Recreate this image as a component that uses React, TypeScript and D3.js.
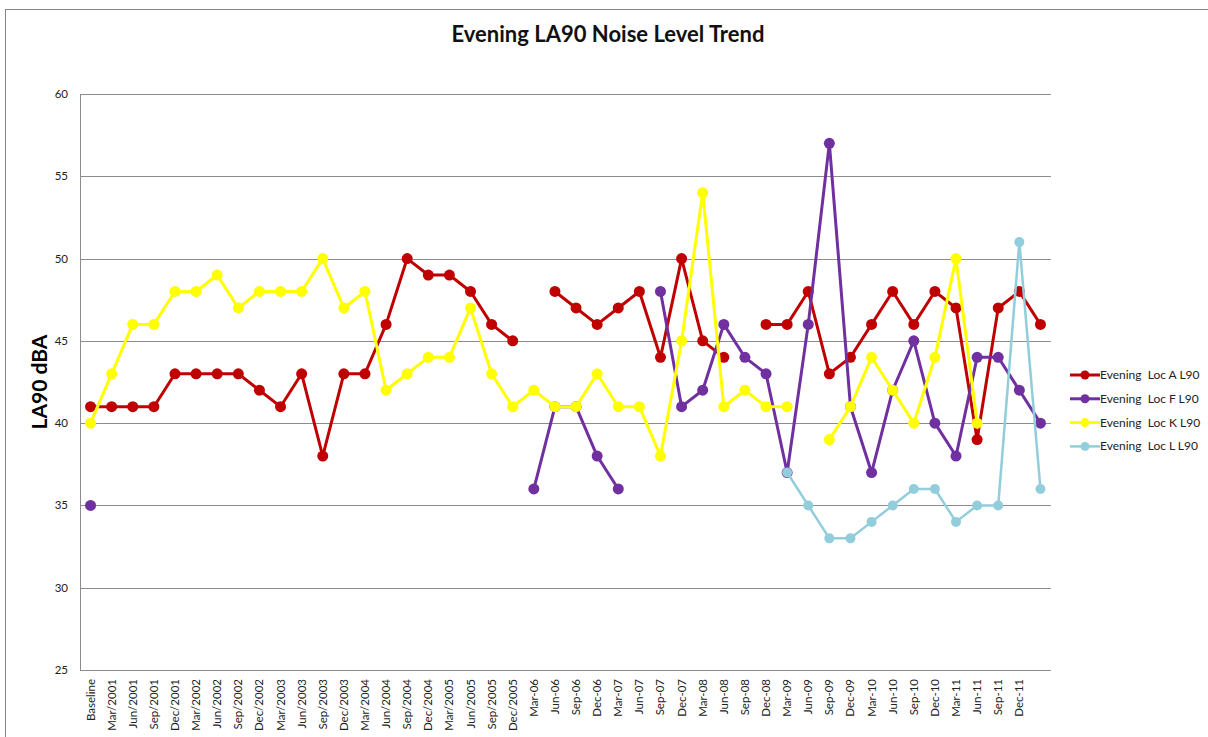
import React from "react";
import * as d3 from "d3";

const categories = [
  "Baseline",
  "Mar/2001", "Jun/2001", "Sep/2001", "Dec/2001",
  "Mar/2002", "Jun/2002", "Sep/2002", "Dec/2002",
  "Mar/2003", "Jun/2003", "Sep/2003", "Dec/2003",
  "Mar/2004", "Jun/2004", "Sep/2004", "Dec/2004",
  "Mar/2005", "Jun/2005", "Sep/2005", "Dec/2005",
  "Mar-06", "Jun-06", "Sep-06", "Dec-06",
  "Mar-07", "Jun-07", "Sep-07", "Dec-07",
  "Mar-08", "Jun-08", "Sep-08", "Dec-08",
  "Mar-09", "Jun-09", "Sep-09", "Dec-09",
  "Mar-10", "Jun-10", "Sep-10", "Dec-10",
  "Mar-11", "Jun-11", "Sep-11", "Dec-11",
  "",
];

type V = number | null;

const locA: V[] = [
  41, 41, 41, 41, 43, 43, 43, 43, 42, 41, 43, 38, 43, 43, 46, 50, 49, 49, 48, 46, 45,
  null, 48, 47, 46, 47, 48, 44, 50, 45, 44, null, 46, 46, 48, 43, 44, 46, 48, 46, 48,
  47, 39, 47, 48, 46,
];

const locF: V[] = [
  35, null, null, null, null, null, null, null, null, null, null, null, null, null, null,
  null, null, null, null, null, null,
  36, 41, 41, 38, 36, null, 48, 41, 42, 46, 44, 43, 37, 46, 57, 41, 37, 42, 45, 40, 38,
  44, 44, 42, 40,
];

const locK: V[] = [
  40, 43, 46, 46, 48, 48, 49, 47, 48, 48, 48, 50, 47, 48, 42, 43, 44, 44, 47, 43, 41,
  42, 41, 41, 43, 41, 41, 38, 45, 54, 41, 42, 41, 41, null, 39, 41, 44, 42, 40, 44, 50,
  40, null, null, null,
];

const locL: V[] = [
  null, null, null, null, null, null, null, null, null, null, null, null, null, null,
  null, null, null, null, null, null, null, null, null, null, null, null, null, null,
  null, null, null, null, null,
  37, 35, 33, 33, 34, 35, 36, 36, 34, 35, 35, 51, 36,
];

const yTicks = [25, 30, 35, 40, 45, 50, 55, 60];

const series = [
  { name: "Evening  Loc A L90", values: locA, color: "#C00000", width: 3, r: 5.5 },
  { name: "Evening  Loc F L90", values: locF, color: "#7030A0", width: 3, r: 5.5 },
  { name: "Evening  Loc K L90", values: locK, color: "#FFFF00", width: 3, r: 5.5 },
  { name: "Evening  Loc L L90", values: locL, color: "#92CDDC", width: 2.5, r: 5 },
];

const W = 1208;
const H = 737;
const plot = { left: 80, right: 1051, top: 94, bottom: 670 };
const font = "Lato, 'Open Sans', sans-serif";

export default function App() {
  const x = d3
    .scalePoint<number>()
    .domain(categories.map((_, i) => i))
    .range([plot.left, plot.right])
    .padding(0.5);

  const y = d3.scaleLinear().domain([25, 60]).range([plot.bottom, plot.top]);

  const line = d3
    .line<V>()
    .defined((d) => d !== null)
    .x((_, i) => x(i) as number)
    .y((d) => y(d as number));

  return (
    <svg
      width={W}
      height={H}
      style={{ position: "absolute", left: 0, top: 0, background: "#fff" }}
      fontFamily={font}
    >
      <rect x={5.5} y={9.5} width={W + 10} height={H + 10} fill="#fff" stroke="#868686" strokeWidth={1} />

      <text x={608} y={42} textAnchor="middle" fontSize={22} fontWeight="bold" fill="#111">
        Evening LA90 Noise Level Trend
      </text>

      <text
        transform={`translate(47,${(plot.top + plot.bottom) / 2}) rotate(-90)`}
        textAnchor="middle"
        fontSize={21}
        fontWeight="bold"
        fill="#000"
      >
        LA90 dBA
      </text>

      {yTicks.map((t) => (
        <g key={t}>
          <line
            x1={plot.left}
            x2={plot.right}
            y1={Math.round(y(t)) + 0.5}
            y2={Math.round(y(t)) + 0.5}
            stroke="#8c8c8c"
            strokeWidth={1}
          />
          <text x={68} y={y(t) + 4} textAnchor="end" fontSize={11.5} fill="#222">
            {t}
          </text>
        </g>
      ))}

      <line x1={plot.left + 0.5} x2={plot.left + 0.5} y1={plot.top} y2={plot.bottom} stroke="#8c8c8c" />

      {categories.map((c, i) => (
        <text
          key={i}
          transform={`translate(${(x(i) as number) + 4},${plot.bottom + 9}) rotate(-90)`}
          textAnchor="end"
          fontSize={11.5}
          fill="#222"
        >
          {c}
        </text>
      ))}

      {series.map((s) => (
        <g key={s.name}>
          <path d={line(s.values) || ""} fill="none" stroke={s.color} strokeWidth={s.width} strokeLinejoin="round" />
          {s.values.map((v, i) =>
            v === null ? null : (
              <circle key={i} cx={x(i) as number} cy={y(v)} r={s.r} fill={s.color} />
            )
          )}
        </g>
      ))}

      {series.map((s, i) => {
        const ly = 375 + i * 23.8;
        return (
          <g key={s.name}>
            <line x1={1070} x2={1100} y1={ly} y2={ly} stroke={s.color} strokeWidth={s.width} />
            <circle cx={1085} cy={ly} r={4.5} fill={s.color} />
            <text x={1100} y={ly + 4} fontSize={12} fill="#222" style={{ whiteSpace: "pre" }}>
              {s.name}
            </text>
          </g>
        );
      })}
    </svg>
  );
}
